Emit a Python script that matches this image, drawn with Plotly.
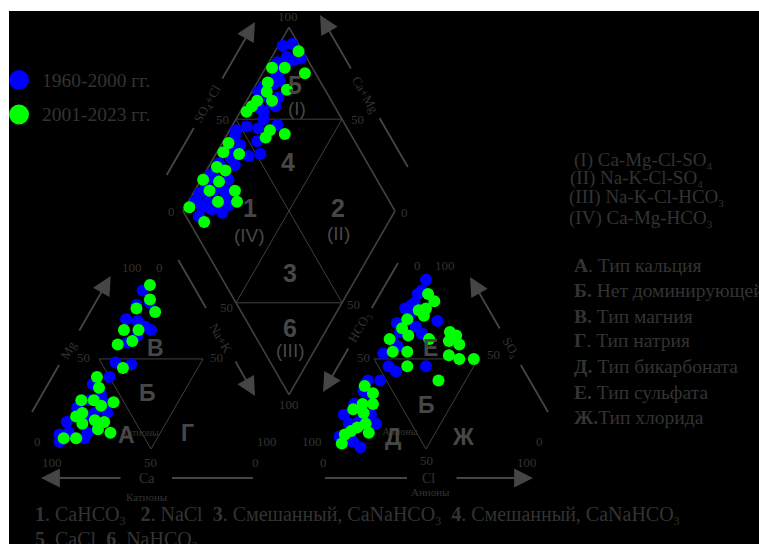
import math
import plotly.graph_objects as go

# ---------------- data (% meq) ----------------
# Cations, 1960-2000
cat_b_ca = [10, 10, 17, 26, 21, 19, 17, 25, 32, 43, 36, 50, 60, 59, 66, 59, 61, 67, 74, 73, 83, 76, 85, 90, 92, 79, 69]
cat_b_mg = [88, 81, 80, 72, 71, 68, 66, 63, 59, 48, 47, 40, 36, 30, 27, 25, 20, 20, 23, 18, 15, 9, 9, 8, 4, 6, 13]
cat_b_nak = [2, 9, 3, 2, 8, 13, 17, 12, 9, 9, 17, 10, 4, 11, 7, 16, 19, 13, 3, 9, 2, 15, 6, 2, 4, 15, 18]
# Cations, 2001-2023
cat_g_ca = [5, 9, 18, 10, 30, 23, 29, 37, 41, 56, 58, 70, 64, 62, 55, 73, 77, 69, 76, 65, 70, 65, 89, 83]
cat_g_mg = [91, 83, 78, 76, 66, 66, 60, 58, 45, 40, 34, 27, 27, 24, 26, 20, 18, 16, 14, 15, 11, 9, 6, 6]
cat_g_nak = [4, 8, 4, 14, 4, 11, 11, 5, 14, 4, 8, 3, 9, 14, 19, 7, 5, 15, 10, 20, 19, 26, 5, 11]

# Anions, 1960-2000
an_b_hco3 = [3, 8, 11, 15, 17, 21, 20, 9, 29, 21, 20, 30, 36, 35, 44, 45, 43, 27, 59, 53, 64, 62, 72, 80, 67, 75, 80, 67, 88, 83, 81, 87]
an_b_so4 = [94, 88, 86, 81, 80, 78, 75, 71, 70, 68, 64, 65, 60, 57, 53, 46, 43, 46, 38, 38, 32, 31, 25, 19, 19, 15, 14, 14, 7, 4, 1, 4]
an_b_cl = [3, 4, 3, 4, 3, 1, 5, 20, 1, 11, 16, 5, 4, 8, 3, 9, 14, 27, 3, 9, 4, 7, 3, 1, 14, 10, 6, 19, 5, 13, 18, 9]
# Anions, 2001-2023
an_g_hco3 = [6, 5, 15, 11, 14, 23, 28, 27, 37, 39, 32, 18, 6, 4, 9, 5, 13, 9, 2, 36, 25, 62, 60, 63, 68, 74, 70, 72, 77, 81, 73, 85, 89]
an_g_so4 = [86, 82, 77, 78, 74, 72, 67, 63, 61, 54, 54, 61, 65, 63, 60, 58, 52, 50, 50, 46, 38, 35, 31, 25, 25, 22, 20, 14, 12, 10, 9, 8, 3]
an_g_cl = [8, 13, 8, 11, 12, 5, 5, 10, 2, 7, 14, 21, 29, 33, 31, 37, 35, 41, 48, 18, 37, 3, 9, 12, 7, 4, 10, 14, 11, 9, 18, 7, 8]

# Combined field: anion SO4+Cl and cation Na+K
dia_b_so4cl = [92, 97, 91, 93, 97, 85, 85, 81, 81, 77, 72, 68, 68, 76, 71, 72, 64, 65, 63, 53, 58, 68, 47, 45,
               54, 45, 39, 46, 52, 37, 37, 30, 23, 24, 30, 18, 25, 13, 20, 25, 9, 14, 20, 23, 10, 14, 18, 6]
dia_b_nak = [2, 6, 7, 11, 14, 4, 8, 7, 10, 8, 4, 3, 6, 14, 12, 15, 8, 11, 13, 7, 13, 21, 3, 4,
             16, 9, 6, 16, 21, 8, 12, 4, 3, 6, 13, 3, 14, 3, 9, 16, 3, 9, 17, 20, 8, 13, 19, 9]
dia_g_so4cl = [98, 81, 87, 95, 75, 72, 82, 65, 61, 72, 57, 63, 59, 69, 40, 35, 42, 28, 31, 18, 25, 18, 30, 19, 28, 4, 7]
dia_g_nak = [11, 3, 9, 20, 5, 7, 16, 5, 4, 12, 3, 19, 19, 27, 3, 3, 11, 4, 9, 1, 9, 7, 19, 14, 23, 2, 13]

periods = ["1960-2000 гг.", "2001-2023 гг."]

# ---------------- styling / geometry ----------------
W, H = 759, 544
BG = "#000000"
LINE = "#404040"
ARROW = "#454545"
TXT = "#333333"
ZONE = "#474747"
SERIF = "Liberation Serif"
SANS = "Liberation Sans"
BLUE = "#0000ff"
GREEN = "#00ff00"
R3 = math.sqrt(3)

TRI_SIDE = 208
CAT_O = (47, 95)        # lower-left corner of the cation triangle
AN_O = (322, 95)        # lower-left corner of the anion triangle
DIA_SIDE = 212
DIA_L = (183, 333)      # left corner of the diamond


def sub(n, size=11):
    """small chemical-formula index"""
    return "<sub><span style='font-size:%dpx'>%s</span></sub>" % (size, n)


def tri_xy(origin, right, top):
    """ternary % -> plane (right corner component, apex component)"""
    ox, oy = origin
    xs = [ox + TRI_SIDE * (r + t / 2) / 100 for r, t in zip(right, top)]
    ys = [oy + TRI_SIDE * R3 / 2 * t / 100 for t in top]
    return xs, ys


def dia_xy(a_list, b_list):
    """a = SO4+Cl %, b = Na+K %"""
    lx, ly = DIA_L
    h = DIA_SIDE * R3 / 2
    xs = [lx + DIA_SIDE / 2 * (a + b) / 100 for a, b in zip(a_list, b_list)]
    ys = [ly + h * (a - b) / 100 for a, b in zip(a_list, b_list)]
    return xs, ys


fig = go.Figure()
shapes = []
annotations = []


def seg(p, q, width=1.0, color=LINE):
    shapes.append(dict(type="line", xref="x", yref="y", x0=p[0], y0=p[1], x1=q[0], y1=q[1],
                       line=dict(color=color, width=width), layer="below"))


def arrow(tail, tip):
    annotations.append(dict(x=tip[0], y=tip[1], ax=tail[0], ay=tail[1], xref="x", yref="y",
                            axref="x", ayref="y", text="", showarrow=True, arrowhead=2,
                            arrowsize=2.1, arrowwidth=1.8, arrowcolor=ARROW))


def label(x, y, text, size=13, color=TXT, family=SERIF, angle=0, xanchor="center"):
    annotations.append(dict(x=x, y=y, xref="x", yref="y", text=text, showarrow=False,
                            font=dict(family=family, size=size, color=color), textangle=angle,
                            xanchor=xanchor, yanchor="middle"))


# ---- diamond outline and zone boundaries ----
h_d = DIA_SIDE * R3 / 2
L = DIA_L
T = (L[0] + DIA_SIDE / 2, L[1] + h_d)
Rr = (L[0] + DIA_SIDE, L[1])
B = (L[0] + DIA_SIDE / 2, L[1] - h_d)
for p, q in [(L, T), (T, Rr), (Rr, B), (B, L)]:
    seg(p, q, width=1.6)
mid = lambda p, q: ((p[0] + q[0]) / 2, (p[1] + q[1]) / 2)
m_lt, m_tr, m_rb, m_bl = mid(L, T), mid(T, Rr), mid(Rr, B), mid(B, L)
seg(m_lt, m_tr)
seg(m_bl, m_rb)
seg(m_lt, m_rb)
seg(m_tr, m_bl)

# ---- inner triangles of cation / anion fields ----
for o in (CAT_O, AN_O):
    h_t = TRI_SIDE * R3 / 2
    a = (o[0] + TRI_SIDE / 4, o[1] + h_t / 2)
    b = (o[0] + 3 * TRI_SIDE / 4, o[1] + h_t / 2)
    c = (o[0] + TRI_SIDE / 2, o[1])
    seg(a, b)
    seg(b, c)
    seg(c, a)

# ---- axis arrows ----
# diamond, SO4+Cl
seg((166.7, 369), (193.8, 416), width=1.8, color=ARROW)
arrow((221.5, 464), (255, 522))
label(207.5, 440, "SO" + sub(4, 9) + "+Cl", angle=-60)
# diamond, Ca+Mg
seg((407.8, 377), (379.5, 426), width=1.8, color=ARROW)
arrow((351.8, 474), (320, 529))
label(365.5, 450, "Ca+Mg", angle=60)
# cation Mg
seg((32, 132), (59, 179), width=1.8, color=ARROW)
arrow((78.5, 212), (110.7, 268))
label(68, 194, "Mg", angle=-60)
# cation Na+K
seg((178.3, 284), (206, 236), width=1.8, color=ARROW)
arrow((234.7, 184), (255, 148))
label(221, 206, "Na+K", angle=60)
# anion HCO3
seg((398, 281), (371.8, 236), width=1.8, color=ARROW)
arrow((349.2, 197), (323, 152))
label(359.5, 216, "HCO" + sub(3, 9), angle=-60)
# anion SO4
seg((548, 132), (520.8, 179), width=1.8, color=ARROW)
arrow((500.6, 214), (470, 267))
label(511, 196, "SO" + sub(4, 9), angle=60)
# bottom axes
seg((253, 66), (172, 66), width=1.8, color=ARROW)
arrow((122, 66), (41, 66))
label(147, 66, "Ca", size=14)
label(147, 47, "Катионы", size=11)
seg((325, 66), (407, 66), width=1.8, color=ARROW)
arrow((455, 66), (533, 66))
label(428, 66, "Cl", size=14)
label(430, 52, "Анионы", size=11)

# ---- tick labels ----
ticks = [
    # diamond
    (288, 528, "100"), (222, 425, "50"), (357, 425, "50"), (171, 333, "0"), (404, 332, "0"),
    (226, 237, "50"), (353, 240, "50"), (289, 140, "100"),
    # cations
    (132, 277, "100"), (159, 277, "0"), (83, 187, "50"), (216, 187, "50"), (37, 103, "0"),
    (267, 103, "100"), (52, 82, "100"), (150, 82, "50"), (255, 82, "0"),
    # anions
    (417, 279, "0"), (445, 279, "100"), (363, 187, "50"), (493, 190, "50"), (312, 103, "100"),
    (539, 103, "0"), (323, 82, "0"), (426, 84, "50"), (527, 82, "100"),
]
for x, y, t in ticks:
    label(x, y, t, size=13)

# ---- zone labels ----
for x, y, t in [(295, 459, "5"), (288, 382, "4"), (250, 336, "1"), (338, 336, "2"),
                (290, 271, "3"), (290, 216, "6")]:
    label(x, y, "<b>%s</b>" % t, size=25, color=ZONE, family=SANS)
for x, y, t in [(297, 436, "(I)"), (249, 309, "(IV)"), (338, 311, "(II)"), (290, 194, "(III)")]:
    label(x, y, t, size=19, color=ZONE, family=SANS)
for x, y, t in [(155, 196, "В"), (147, 151, "Б"), (126, 109, "А"), (187, 111, "Г"),
                (430, 196, "Е"), (426, 139, "Б"), (393, 107, "Д"), (463, 107, "Ж")]:
    label(x, y, "<b>%s</b>" % t, size=23, color=ZONE, family=SANS)

# faint field captions sitting beneath the points
fig.add_trace(go.Scatter(x=[140, 400], y=[111, 112], mode="text", text=["Катионы", "Анионы"],
                         textfont=dict(family=SERIF, size=10, color=TXT), hoverinfo="skip",
                         showlegend=False))

# ---- points ----
for (ca, mg, nak, hco3, so4, cl, dso, dna, color, name) in [
    (cat_b_ca, cat_b_mg, cat_b_nak, an_b_hco3, an_b_so4, an_b_cl, dia_b_so4cl, dia_b_nak, BLUE, periods[0]),
    (cat_g_ca, cat_g_mg, cat_g_nak, an_g_hco3, an_g_so4, an_g_cl, dia_g_so4cl, dia_g_nak, GREEN, periods[1]),
]:
    cx, cy = tri_xy(CAT_O, nak, mg)
    axx, ayy = tri_xy(AN_O, cl, so4)
    dx, dy = dia_xy(dso, dna)
    fig.add_trace(go.Scatter(x=cx + axx + dx, y=cy + ayy + dy, mode="markers", name=name,
                             marker=dict(size=12, color=color, line=dict(width=0)),
                             showlegend=False, cliponaxis=False))

# ---- legend (period markers) ----
for yy, col, name in [(464, BLUE, periods[0]), (429.5, GREEN, periods[1])]:
    shapes.append(dict(type="circle", xref="x", yref="y", x0=9, x1=29, y0=yy - 10, y1=yy + 10,
                       fillcolor=col, line=dict(width=0)))
    label(40, yy, name, size=19.5, xanchor="left")

# ---- water type legend ----
for x, y, t in [(572, 384, "(I) Ca-Mg-Cl-SO" + sub(4)), (568, 366, "(II) Na-K-Cl-SO" + sub(4)),
                (567, 347, "(III) Na-K-Cl-HCO" + sub(3)), (567, 326, "(IV) Ca-Mg-HCO" + sub(3))]:
    label(x, y, t, size=19, xanchor="left")

types = [("А", ". Тип кальция"), ("Б.", " Нет доминирующей"), ("В.", " Тип магния"),
         ("Г", ". Тип натрия"), ("Д.", " Тип бикарбоната"), ("Е.", " Тип сульфата"),
         ("Ж.", "Тип хлорида")]
for (b, rest), y in zip(types, [279, 254, 228, 204, 178, 152, 127]):
    label(572, y, "<b>%s</b>%s" % (b, rest), size=19.5, xanchor="left")

label(33, 29, "<b>1</b>. CaHCO" + sub(3, 12) + "   <b>2</b>. NaCl  <b>3</b>. Смешанный, CaNaHCO" + sub(3, 12) +
      "  <b>4</b>. Смешанный, CaNaHCO" + sub(3, 12), size=20, xanchor="left")
label(33, 4, "<b>5</b>. CaCl  <b>6</b>. NaHCO" + sub(3, 12), size=20, xanchor="left")

fig.update_layout(
    width=W, height=H,
    margin=dict(l=9, r=0, t=11, b=0),
    paper_bgcolor="#ffffff", plot_bgcolor=BG,
    xaxis=dict(range=[9, W], visible=False, fixedrange=True),
    yaxis=dict(range=[0, H - 11], visible=False, fixedrange=True),
    shapes=shapes, annotations=annotations, showlegend=False,
)
fig.write_html("out.html")
